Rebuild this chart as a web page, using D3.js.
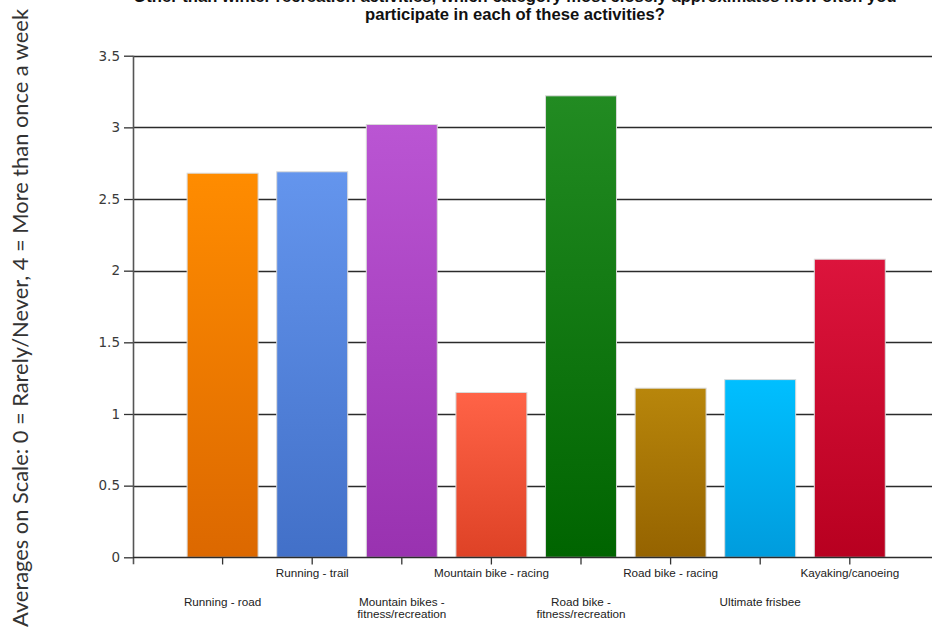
<!DOCTYPE html>
<html>
<head>
<meta charset="utf-8">
<script src="https://cdn.jsdelivr.net/npm/d3@7"></script>
<style>
  html, body { margin: 0; padding: 0; background: #fff; }
  svg { display: block; }
</style>
</head>
<body>
<div id="chart"></div>
<script>
// ---- Data ----
const categories = [
  "Running - road",
  "Running - trail",
  "Mountain bikes - fitness/recreation",
  "Mountain bike - racing",
  "Road bike - fitness/recreation",
  "Road bike - racing",
  "Ultimate frisbee",
  "Kayaking/canoeing"
];
const values = [2.68, 2.69, 3.02, 1.15, 3.22, 1.18, 1.24, 2.08];
const yTicks = [0, 0.5, 1, 1.5, 2, 2.5, 3, 3.5];
const titleLines = [
  "Other than winter recreation activities, which category most closely approximates how often you",
  "participate in each of these activities?"
];
const yTitle = "Averages on Scale: 0 = Rarely/Never, 4 = More than once a week";

// ---- Palette (top / bottom of each bar's gradient) ----
const topColors    = ["#FF8C00", "#6495ED", "#BA55D3", "#FF6347", "#228B22", "#B8860B", "#00BFFF", "#DC143C"];
const bottomColors = ["#DC6800", "#4270C8", "#9932B0", "#DE4226", "#006400", "#956300", "#009CDD", "#B80020"];

// ---- Layout ----
const W = 932, H = 633;
const axisX = 133, zeroY = 557.3, topY = 55.7;
const step = 89.6;

const svg = d3.select("#chart").append("svg")
  .attr("width", W).attr("height", H)
  .style("font-family", "'Liberation Sans', Arial, sans-serif");

const y = d3.scaleLinear().domain([0, 3.5]).range([zeroY, topY]);
const x = d3.scaleBand()
  .domain(categories)
  .range([axisX + step / 2, axisX + step * (categories.length + 0.5)])
  .paddingInner(0.208)
  .paddingOuter(0.104);

// gradients
const defs = svg.append("defs");
categories.forEach((c, i) => {
  const g = defs.append("linearGradient")
    .attr("id", "grad" + i)
    .attr("x1", 0).attr("y1", 0).attr("x2", 0).attr("y2", 1);
  g.append("stop").attr("offset", "0%").attr("stop-color", topColors[i]);
  g.append("stop").attr("offset", "100%").attr("stop-color", bottomColors[i]);
});

// gridlines
svg.append("g").selectAll("line")
  .data(yTicks.filter(d => d > 0))
  .join("line")
  .attr("x1", axisX).attr("x2", W)
  .attr("y1", d => Math.round(y(d)) + 0.5).attr("y2", d => Math.round(y(d)) + 0.5)
  .attr("stroke", "#2b2b2b").attr("stroke-width", 1.4);

// y axis
const yAxis = d3.axisLeft(y).tickValues(yTicks).tickSize(9).tickPadding(4)
  .tickFormat(d => d3.format("")(d));
const yg = svg.append("g").attr("transform", `translate(${axisX},0)`).call(yAxis);
yg.select(".domain").remove();
yg.selectAll(".tick line").attr("stroke", "#333").attr("stroke-width", 1.3);
yg.selectAll(".tick text")
  .attr("fill", "#3a3a3a")
  .style("font-family", "'DejaVu Sans', sans-serif")
  .style("font-size", "13.5px");
svg.append("line")
  .attr("x1", axisX + 0.5).attr("x2", axisX + 0.5)
  .attr("y1", y(3.5)).attr("y2", zeroY + 7)
  .attr("stroke", "#555").attr("stroke-width", 1.6);

// bars
svg.append("g").selectAll("rect")
  .data(values)
  .join("rect")
  .attr("x", (d, i) => x(categories[i]))
  .attr("width", x.bandwidth())
  .attr("y", d => y(d))
  .attr("height", d => zeroY - y(d))
  .attr("fill", (d, i) => `url(#grad${i})`)
  .attr("stroke", "#d9d9d9")
  .attr("stroke-width", 1);

// x axis line
svg.append("line")
  .attr("x1", axisX).attr("x2", W)
  .attr("y1", Math.round(zeroY) + 0.5).attr("y2", Math.round(zeroY) + 0.5)
  .attr("stroke", "#2b2b2b").attr("stroke-width", 1.4);

// x ticks
const xAxis = d3.axisBottom(x).tickSize(7).tickFormat("");
const xg = svg.append("g").attr("transform", `translate(0,${Math.round(zeroY) + 0.5})`).call(xAxis);
xg.select(".domain").remove();
xg.selectAll(".tick line").attr("stroke", "#333").attr("stroke-width", 1.3);

// x labels (staggered)
const labels = svg.append("g")
  .style("font-size", "11.7px")
  .attr("fill", "#222")
  .attr("text-anchor", "middle");
categories.forEach((c, i) => {
  const cx = x(c) + x.bandwidth() / 2;
  let lines = [c];
  if (c.length > 24) {
    const k = c.indexOf("- ");
    lines = [c.slice(0, k + 1), c.slice(k + 2)];
  }
  const base = (i % 2 === 1) ? 577 : 606;
  lines.forEach((ln, j) => {
    labels.append("text").attr("x", cx).attr("y", base + j * 12).text(ln);
  });
});

// title (first line partly clipped at the top, as in the reference)
const title = svg.append("g")
  .attr("text-anchor", "middle")
  .style("font-family", "'Liberation Sans', Arial, sans-serif")
  .style("font-weight", "bold")
  .style("font-size", "14px")
  .attr("fill", "#111");
const titleY = [2, 19.5];
const tNodes = titleLines.map((t, i) =>
  title.append("text").attr("x", 515).attr("y", titleY[i]).text(t));
// fit second line to ~300px wide like the reference
const w2 = tNodes[1].node().getComputedTextLength();
if (w2 > 0) title.style("font-size", (14 * 300 / w2).toFixed(2) + "px");

// y title
svg.append("text")
  .attr("transform", `translate(28,318) rotate(-90)`)
  .attr("text-anchor", "middle")
  .attr("fill", "#333")
  .style("font-family", "Lato, 'Open Sans', sans-serif")
  .style("font-size", "21px")
  .attr("textLength", 618)
  .attr("lengthAdjust", "spacingAndGlyphs")
  .text(yTitle);
</script>
</body>
</html>
